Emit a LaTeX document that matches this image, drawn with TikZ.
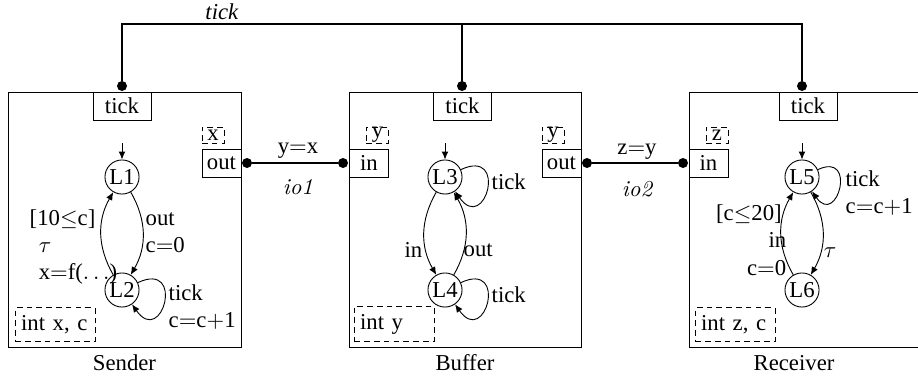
\documentclass[tikz,border=0pt]{standalone}
\usepackage[no-math]{fontspec}
\setmainfont{Liberation Serif}
\usetikzlibrary{arrows.meta}

\newcommand{\eq}{$=$}
\newcommand{\pl}{$+$}
\newcommand{\chan}[1]{{\fontfamily{lmr}\selectfont\itshape #1}}

\tikzset{
  portbox/.style={draw, minimum width=17.2pt, minimum height=12.3pt, inner sep=0pt},
  varbox/.style={draw, dashed, dash pattern=on 2.5pt off 1.8pt, minimum width=9.7pt, minimum height=7pt, inner sep=0pt},
  localbox/.style={draw, dashed, dash pattern=on 2.5pt off 1.8pt, text width=30pt, align=left, inner xsep=2.5pt, minimum height=12.8pt, anchor=south west},
  loc/.style={draw, circle, minimum size=15pt, inner sep=0pt},
  pin/.style={circle, fill, inner sep=0pt, minimum size=4.4pt},
  wire/.style={thick},
  trans/.style={-{Latex[length=3.5pt,width=3pt]}},
  lbl/.style={inner sep=1pt},
}

\begin{document}
\begin{tikzpicture}[x=0.44pt, y=0.44pt]
\useasboundingbox (0,0) rectangle (918,379);

% components
\draw (8,32) rectangle (241,287);
\draw (349,32) rectangle (581,287);
\draw (689,32) rectangle (930,287);
\node at (124.5,16) {Sender};
\node at (465,16) {Buffer};
\node at (794,16) {Receiver};

% ports and their variables
\node[portbox, minimum width=25.5pt] (stick) at (122,273) {tick};
\node[portbox, minimum width=25.5pt] (btick) at (462.5,273) {tick};
\node[portbox, minimum width=25.5pt] (rtick) at (808,273) {tick};
\node[portbox] (sout) at (221.5,216) {out};
\node[portbox] (bin) at (369,216) {in};
\node[portbox] (bout) at (561.5,216) {out};
\node[portbox] (rin) at (708.5,216) {in};
\node[varbox] (sx) at (213,244) {x};
\node[varbox] (by1) at (377.5,244) {y};
\node[varbox] (by2) at (553,244) {y};
\node[varbox] (rz) at (717,244) {z};

% pins
\node[pin] (sp) at (122,293) {};
\node[pin] (bp) at (462,293) {};
\node[pin] (rp) at (802,293) {};
\node[pin] (soutp) at (247,216) {};
\node[pin] (binp) at (343,216) {};
\node[pin] (boutp) at (587,216) {};
\node[pin] (rinp) at (683,216) {};

% tick bus
\coordinate (bus) at (0,355);
\draw[wire] (sp) -- (sp |- bus) -- (rp |- bus) -- (rp);
\draw[wire] (bp) -- (bp |- bus);
\node at (222,367) {\textit{tick}};

% channels
\draw[wire] (soutp) -- (binp);
\draw[wire] (boutp) -- (rinp);
\node at (298,228) {y\eq x};
\node at (298,192) {\chan{io1}};
\node at (637,227) {z\eq y};
\node at (637,190) {\chan{io2}};

% Sender
\node[loc] (L1) at (122,202) {L1};
\node[loc] (L2) at (122,89) {L2};
\coordinate (i1) at (122,236);
\draw[trans] (i1) -- (L1);
\draw[trans] (L1) to[bend left=30] (L2);
\draw[trans] (L2) to[bend left=30] (L1);
\draw[trans] (L2) to[out=25,in=-55,looseness=6] (L2);
\node[lbl, anchor=west, align=left] at (143,146) {out\\c\eq 0};
\node[lbl, anchor=west, align=left] at (27,132) {[10$\leq$c]\\\hspace*{4pt}$\tau$\\\hspace*{4pt}x\eq f($\ldots$)};
\node[lbl, anchor=west, align=left] at (166,72) {tick\\c\eq c\pl 1};
\node[localbox] (sloc) at (15,37) {int x, c};

% Buffer
\node[loc] (L3) at (445,202) {L3};
\node[loc] (L4) at (445,89) {L4};
\coordinate (i3) at (445,236);
\draw[trans] (i3) -- (L3);
\draw[trans] (L3) to[bend right=30] (L4);
\draw[trans] (L4) to[bend right=30] (L3);
\draw[trans] (L3) to[out=25,in=-55,looseness=6] (L3);
\draw[trans] (L4) to[out=25,in=-55,looseness=6] (L4);
\node[lbl, anchor=east] at (425,129) {in};
\node[lbl, anchor=west] at (461,129) {out};
\node[lbl, anchor=west] at (489,197) {tick};
\node[lbl, anchor=west] at (489,84) {tick};
\node[localbox] (bloc) at (354,37) {int y};

% Receiver
\node[loc] (L5) at (802,202) {L5};
\node[loc] (L6) at (802,89) {L6};
\coordinate (i5) at (802,236);
\draw[trans] (i5) -- (L5);
\draw[trans] (L5) to[bend left=30] (L6);
\draw[trans] (L6) to[bend left=30] (L5);
\draw[trans] (L5) to[out=25,in=-55,looseness=5] (L5);
\node[lbl, anchor=east, align=right] at (789,139) {[c$\leq$20]\hspace*{2pt}\\in\hspace*{7pt}\\c\eq 0};
\node[lbl] at (830,126) {$\tau$};
\node[lbl, anchor=west, align=left] at (843,186) {tick\\c\eq c\pl 1};
\node[localbox] (rloc) at (695,37) {int z, c};
\end{tikzpicture}
\end{document}
